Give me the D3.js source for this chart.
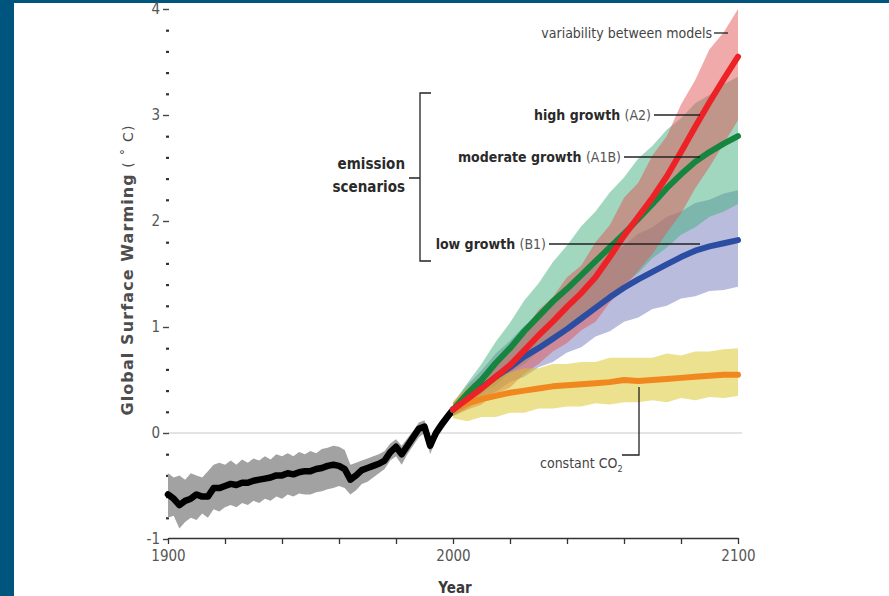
<!DOCTYPE html>
<html><head><meta charset="utf-8">
<script src="https://cdn.jsdelivr.net/npm/d3@7"></script>
<style>
html,body{margin:0;padding:0;background:#00557f;}
svg{display:block;}
text{font-family:"Liberation Sans Narrow","DejaVu Sans Condensed","Roboto Condensed",sans-serif;}
</style></head>
<body>
<svg id="chart" width="889" height="596"></svg>
<script>
// ---------- DATA ----------
const histYears = d3.range(1900, 2001, 2);
const histMean = [-0.58,-0.62,-0.68,-0.64,-0.62,-0.58,-0.60,-0.60,-0.52,-0.52,-0.50,-0.48,-0.49,-0.47,-0.47,-0.45,-0.44,-0.43,-0.42,-0.40,-0.40,-0.38,-0.39,-0.37,-0.36,-0.36,-0.34,-0.33,-0.31,-0.30,-0.31,-0.34,-0.44,-0.40,-0.35,-0.33,-0.31,-0.29,-0.26,-0.18,-0.13,-0.20,-0.12,-0.04,0.04,0.06,-0.12,0.00,0.08,0.15,0.22];
const histHigh = [-0.38,-0.42,-0.40,-0.44,-0.38,-0.40,-0.42,-0.36,-0.30,-0.28,-0.30,-0.26,-0.30,-0.25,-0.28,-0.24,-0.26,-0.22,-0.25,-0.20,-0.22,-0.19,-0.22,-0.18,-0.20,-0.17,-0.19,-0.15,-0.14,-0.12,-0.13,-0.16,-0.30,-0.28,-0.26,-0.24,-0.22,-0.20,-0.17,-0.10,-0.06,-0.12,-0.05,0.02,0.10,0.12,-0.05,0.06,0.13,0.20,0.26];
const histLow = [-0.80,-0.78,-0.90,-0.84,-0.80,-0.82,-0.76,-0.80,-0.72,-0.74,-0.70,-0.68,-0.70,-0.66,-0.68,-0.64,-0.66,-0.62,-0.64,-0.60,-0.62,-0.58,-0.60,-0.57,-0.58,-0.58,-0.56,-0.55,-0.53,-0.52,-0.50,-0.52,-0.58,-0.54,-0.48,-0.46,-0.42,-0.38,-0.34,-0.26,-0.22,-0.30,-0.20,-0.12,-0.04,0.00,-0.20,-0.06,0.02,0.10,0.18];

const futYears = d3.range(2000, 2101, 5);
const a2Mean  = [0.22,0.32,0.42,0.53,0.64,0.78,0.92,1.05,1.19,1.32,1.47,1.66,1.86,2.04,2.22,2.42,2.65,2.89,3.12,3.34,3.55];
const a2High  = [0.28,0.42,0.54,0.66,0.82,0.97,1.16,1.28,1.47,1.58,1.80,1.96,2.22,2.36,2.62,2.80,3.10,3.33,3.62,3.78,4.00];
const a2Low   = [0.16,0.22,0.27,0.37,0.43,0.56,0.65,0.77,0.85,0.97,1.05,1.23,1.37,1.53,1.69,1.89,2.07,2.31,2.51,2.73,2.95];
const a1bMean = [0.22,0.37,0.50,0.66,0.80,0.96,1.10,1.24,1.36,1.49,1.62,1.75,1.88,2.02,2.16,2.31,2.44,2.56,2.65,2.73,2.80];
const a1bHigh = [0.28,0.47,0.65,0.86,1.04,1.25,1.41,1.61,1.77,1.95,2.09,2.27,2.41,2.59,2.71,2.86,2.97,3.11,3.19,3.29,3.36];
const a1bLow  = [0.16,0.25,0.37,0.45,0.57,0.65,0.77,0.85,0.97,1.05,1.17,1.27,1.41,1.51,1.65,1.75,1.87,1.94,2.04,2.09,2.16];
const b1Mean  = [0.22,0.33,0.43,0.53,0.62,0.72,0.80,0.89,0.98,1.08,1.18,1.28,1.37,1.45,1.52,1.59,1.66,1.72,1.76,1.79,1.82];
const b1High  = [0.28,0.45,0.59,0.75,0.87,1.01,1.11,1.25,1.35,1.48,1.57,1.69,1.77,1.88,1.94,2.04,2.09,2.17,2.20,2.26,2.29];
const b1Low   = [0.16,0.23,0.33,0.39,0.48,0.53,0.62,0.67,0.76,0.81,0.91,0.96,1.05,1.09,1.17,1.20,1.27,1.29,1.34,1.35,1.38];
const conMean = [0.22,0.28,0.32,0.35,0.38,0.40,0.42,0.44,0.45,0.46,0.47,0.48,0.50,0.49,0.50,0.51,0.52,0.53,0.54,0.55,0.55];
const conHigh = [0.30,0.43,0.49,0.56,0.57,0.61,0.61,0.65,0.65,0.67,0.67,0.71,0.71,0.71,0.71,0.75,0.73,0.77,0.77,0.79,0.80];
const conLow  = [0.14,0.11,0.15,0.15,0.19,0.19,0.23,0.23,0.25,0.25,0.28,0.27,0.29,0.29,0.31,0.29,0.33,0.31,0.34,0.33,0.35];

const yMajorTicks = [-1,0,1,2,3,4];
const yMinorTicks = d3.range(-1, 4.001, 0.2).filter(v => Math.abs(v - Math.round(v)) > 0.01);
const xTicks = d3.range(1900, 2101, 20);
const xTickLabels = [1900, 2000, 2100];

// ---------- CHART ----------
const svg = d3.select("#chart");
svg.append("rect").attr("x",14).attr("y",3).attr("width",875).attr("height",593).attr("fill","#fff");

const x = d3.scaleLinear().domain([1900,2100]).range([168,738]);
const y = d3.scaleLinear().domain([-1,4]).range([539,9]);

// zero line
svg.append("line").attr("x1",x(1900)).attr("x2",742).attr("y1",y(0)).attr("y2",y(0))
  .attr("stroke","#c8c8c8").attr("stroke-width",1);

// y axis minor
const gyMinor = svg.append("g").attr("transform",`translate(169,0)`)
  .call(d3.axisLeft(y).tickValues(yMinorTicks).tickSize(3).tickFormat(""));
gyMinor.select(".domain").remove();
gyMinor.selectAll("line").attr("stroke","#333").attr("stroke-width",2.2);

// y axis major
const gy = svg.append("g").attr("transform",`translate(169,0)`)
  .call(d3.axisLeft(y).tickValues(yMajorTicks).tickSize(6).tickPadding(3)
    .tickFormat(d => d < 0 ? "-" + (-d) : String(d)));
gy.select(".domain").remove();
gy.selectAll("line").attr("stroke","#444").attr("stroke-width",1.4);
gy.selectAll("text").attr("font-size",15).attr("fill","#555")
  .style("font-family",'"Liberation Sans Narrow","DejaVu Sans Condensed",sans-serif');

// x axis
const gx = svg.append("g").attr("transform",`translate(0,538)`)
  .call(d3.axisBottom(x).tickValues(xTicks).tickSize(6).tickSizeOuter(0).tickPadding(6)
    .tickFormat(d => xTickLabels.includes(d) ? d : ""));
gx.select(".domain").attr("stroke","#333").attr("stroke-width",1.6);
gx.selectAll("line").attr("stroke","#333").attr("stroke-width",1.3);
gx.selectAll("text").attr("font-size",15).attr("fill","#555")
  .style("font-family",'"Liberation Sans Narrow","DejaVu Sans Condensed",sans-serif');

// axis titles
svg.append("text").attr("x",455).attr("y",593).attr("text-anchor","middle")
  .attr("font-size",15).attr("font-weight","bold").attr("fill","#3a3a3a").text("Year");
const yt = svg.append("text").attr("transform","translate(133,270) rotate(-90)")
  .attr("text-anchor","middle").attr("font-size",16).attr("fill","#4d4d4d")
  .style("font-family",'"DejaVu Sans","Liberation Sans",sans-serif').attr("letter-spacing",1.1);
yt.append("tspan").attr("font-weight","bold").text("Global Surface Warming");
yt.append("tspan").attr("font-weight","normal").attr("font-size",14).text(" ( ˚ C)");

// helpers
const mk = (years, arr) => years.map((yr,i) => ({yr, v: arr[i]}));
const mkBand = (years, lo, hi) => years.map((yr,i) => ({yr, lo: lo[i], hi: hi[i]}));
const area = d3.area().x(d => x(d.yr)).y0(d => y(d.lo)).y1(d => y(d.hi)).curve(d3.curveLinear);
const line = d3.line().x(d => x(d.yr)).y(d => y(d.v)).curve(d3.curveLinear);

// historic
svg.append("path").datum(mkBand(histYears, histLow, histHigh)).attr("d", area).attr("fill","#a2a2a2");
svg.append("path").datum(mk(histYears, histMean)).attr("d", line).attr("fill","none")
  .attr("stroke","#000").attr("stroke-width",6.5).attr("stroke-linejoin","round").attr("stroke-linecap","round");

// future bands
const bands = [
  {lo:b1Low, hi:b1High, c:"rgb(115,121,185)"},
  {lo:a1bLow, hi:a1bHigh, c:"rgb(65,175,125)"},
  {lo:a2Low, hi:a2High, c:"rgb(225,85,85)"},
  {lo:conLow, hi:conHigh, c:"rgb(215,195,30)"}
];
bands.forEach(b => {
  svg.append("path").datum(mkBand(futYears, b.lo, b.hi)).attr("d", area)
    .attr("fill", b.c).attr("fill-opacity", 0.5);
});

// future lines
const lines = [
  {v:conMean, c:"#f0871f"},
  {v:b1Mean, c:"#2b4ea3"},
  {v:a1bMean, c:"#168540"},
  {v:a2Mean, c:"#ec2227"}
];
lines.forEach(l => {
  svg.append("path").datum(mk(futYears, l.v)).attr("d", line).attr("fill","none")
    .attr("stroke", l.c).attr("stroke-width",6).attr("stroke-linejoin","round").attr("stroke-linecap","round");
});

// annotations
const ann = svg.append("g").attr("fill","#3a3a3a");
const lead = (x1,y1,x2,y2,w) => ann.append("line").attr("x1",x1).attr("y1",y1).attr("x2",x2).attr("y2",y2)
  .attr("stroke","#222").attr("stroke-width",w||1.3);

ann.append("text").attr("x",712).attr("y",38).attr("text-anchor","end").attr("font-size",14).attr("fill","#444")
  .text("variability between models");
lead(714,33,728,33);

function scen(xEnd, yy, bold, normal, leadEnd){
  const t = ann.append("text").attr("x",xEnd).attr("y",yy+5).attr("text-anchor","end").attr("font-size",14);
  t.append("tspan").attr("font-weight","bold").attr("fill","#2a2a2a").text(bold + " ");
  t.append("tspan").attr("fill","#555").text(normal);
  lead(xEnd+3, yy, leadEnd, yy);
}
scen(651,115,"high growth","(A2)",700);
scen(621,157,"moderate growth","(A1B)",700);
scen(546,244,"low growth","(B1)",700);

const es = ann.append("text").attr("text-anchor","end").attr("font-size",15).attr("font-weight","bold").attr("fill","#2a2a2a");
es.append("tspan").attr("x",405).attr("y",169).text("emission");
es.append("tspan").attr("x",405).attr("y",192).text("scenarios");
ann.append("path").attr("d","M431,93H420V261H431M420,178H409").attr("fill","none").attr("stroke","#222").attr("stroke-width",1.3);

const co = ann.append("text").attr("x",540).attr("y",468).attr("font-size",14).attr("fill","#444");
co.append("tspan").text("constant CO");
co.append("tspan").attr("font-size",9).attr("dy",4).text("2");
ann.append("path").attr("d","M622,455H639V387").attr("fill","none").attr("stroke","#222").attr("stroke-width",1.3);
</script>
</body></html>
